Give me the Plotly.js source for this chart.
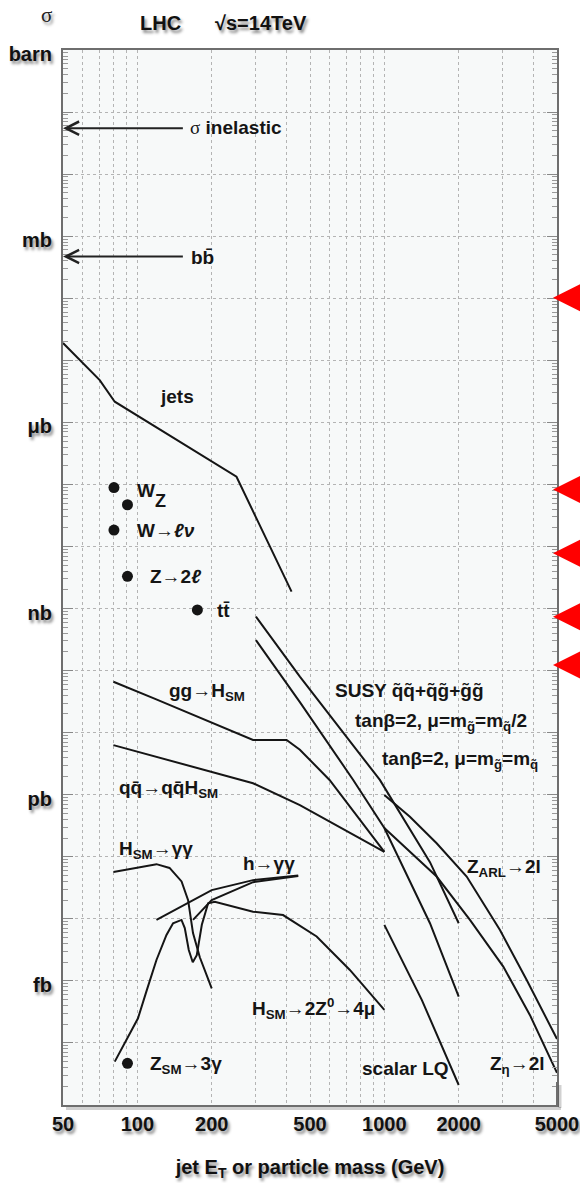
<!DOCTYPE html>
<html>
<head>
<meta charset="utf-8">
<script src="https://cdn.plot.ly/plotly-3.0.1.min.js"></script>
<style>
  html, body { margin: 0; padding: 0; background: #ffffff; }
  #plot { width: 580px; height: 1183px; }
</style>
</head>
<body>
<div id="plot"></div>
<script>
// LHC cross sections (barn) versus jet E_T or particle mass (GeV), sqrt(s) = 14 TeV

// Reference lines drawn as arrows onto the axis
const inelasticXs = 5.5e-2;
const bbbarXs = 4.7e-4;
const arrowTailMass = 155;

// Continuous processes
const jetsMass = [50, 70.4, 81, 252, 421];
const jetsXs   = [1.9e-5, 4.8e-6, 2.15e-6, 1.33e-7, 1.87e-9];

const ggHMass = [80, 118, 294, 402, 455, 600, 1000];
const ggHXs   = [6.6e-11, 3.5e-11, 7.6e-12, 7.6e-12, 5.3e-12, 1.73e-12, 1.2e-13];

const qqHMass = [80, 294, 455, 1000];
const qqHXs   = [6.3e-12, 1.53e-12, 6.8e-13, 1.2e-13];

const hggSMMass = [80, 119.5, 135, 151, 160.5, 168, 179, 200];
const hggSMXs   = [5.7e-14, 7.6e-14, 6.6e-14, 4.0e-14, 2.0e-14, 5.9e-15, 2.4e-15, 7.6e-16];

const hggAMass = [119.5, 200, 294, 448];
const hggAXs   = [9.6e-15, 2.9e-14, 4.2e-14, 5.0e-14];

const hggBMass = [168, 200, 294, 448];
const hggBXs   = [9.6e-15, 2.0e-14, 3.9e-14, 4.9e-14];

const hzzMass = [81, 90.6, 100.6, 109.2, 119.5, 131.2, 139.5, 150.9, 155.6, 161.5,
                 167.6, 174, 182.4, 193.4, 205.8, 294, 389, 532, 725, 1000];
const hzzXs   = [5.0e-17, 1.12e-16, 2.5e-16, 7.1e-16, 2.17e-15, 5.5e-15, 8.5e-15, 9.6e-15, 7.1e-15, 3.15e-15,
                 2.0e-15, 2.6e-15, 8.0e-15, 1.78e-14, 1.89e-14, 1.30e-14, 1.15e-14, 5.2e-15, 1.5e-15, 3.4e-16];

const susyHalfMass = [302, 455, 959, 1530, 2000];
const susyHalfXs   = [7.4e-10, 8.0e-11, 1.73e-12, 8.2e-14, 8.5e-15];

const susyEqMass = [302, 455, 748, 1000, 1530, 2000];
const susyEqXs   = [3.1e-10, 3.1e-11, 1.73e-12, 2.9e-13, 8.5e-15, 5.6e-16];

const zArlMass = [1000, 1269, 1628, 2154, 2938, 3770, 5000];
const zArlXs   = [9.9e-13, 4.4e-13, 1.65e-13, 4.8e-14, 6.6e-15, 1.03e-15, 1.16e-16];

const zEtaMass = [1000, 1628, 2221, 3030, 3887, 5000];
const zEtaXs   = [2.9e-13, 4.8e-14, 9.6e-15, 1.7e-15, 2.8e-16, 3.3e-17];

const lqMass = [1000, 1419, 2000];
const lqXs   = [8.0e-15, 4.9e-16, 2.1e-17];

// Single-mass processes: W, Z, W->lnu, Z->2l, ttbar, Z->3gamma
const pointMass = [80.4, 91.2, 80.4, 91.2, 175, 91.2];
const pointXs   = [8.9e-8, 4.7e-8, 1.84e-8, 3.3e-9, 9.5e-10, 4.7e-17];

// Marked levels on the right edge
const flagLevels = [1.02e-4, 8.3e-8, 7.8e-9, 7.4e-10, 1.23e-10];

// Axis ticks
const xTickLabelVals = [50, 100, 200, 500, 1000, 2000, 5000];
const yTickExp    = [0, -3, -6, -9, -12, -15];
const yTickLabels = ['barn', 'mb', 'μb', 'nb', 'pb', 'fb'];

// ---------------------------------------------------------------------
const W = 580, H = 1183;
const M = {l: 63, r: 23, t: 50, b: 78};
const PW = W - M.l - M.r, PH = H - M.t - M.b;
const px = x => (x - M.l) / PW;
const py = y => 1 - (y - M.t) / PH;
const L10 = Math.log10;

const FONT = 'Liberation Sans, Arial, sans-serif';
const SHADOW = '2px 3px 3px rgba(0,0,0,0.45)';
const INK = '#151515';
const labelFont = {family: FONT, size: 19, color: INK, weight: 700};
const outerFont = {family: FONT, size: 20, color: '#111', weight: 700, shadow: SHADOW};
const GRID = {color: '#b4b4b4', width: 1, dash: 'dot'};

function curve(x, y) {
  return {x: x, y: y, type: 'scatter', mode: 'lines',
          line: {color: INK, width: 2}, hoverinfo: 'skip', showlegend: false};
}

const traces = [
  curve(jetsMass, jetsXs),
  curve(ggHMass, ggHXs),
  curve(qqHMass, qqHXs),
  curve(hggSMMass, hggSMXs),
  curve(hggAMass, hggAXs),
  curve(hggBMass, hggBXs),
  curve(hzzMass, hzzXs),
  curve(susyHalfMass, susyHalfXs),
  curve(susyEqMass, susyEqXs),
  curve(zArlMass, zArlXs),
  curve(zEtaMass, zEtaXs),
  curve(lqMass, lqXs),
  {x: pointMass, y: pointXs, type: 'scatter', mode: 'markers',
   marker: {color: INK, size: 11, symbol: 'circle'}, hoverinfo: 'skip', showlegend: false},
  // carrier for the minor tick axis
  {x: [], y: [], type: 'scatter', mode: 'lines', yaxis: 'y2', hoverinfo: 'skip', showlegend: false}
];

// Vertical grid at 1..9 x 10^n that carry no label
const xMinorGrid = [];
for (let d = 1; d <= 3; d++) {
  for (let k = 1; k <= 9; k++) {
    const v = k * Math.pow(10, d);
    if (v > 50 && v < 5000 && !xTickLabelVals.includes(v)) xMinorGrid.push(v);
  }
}

// Decades: labelled ones as major ticks, the rest as grid-only minor ticks
const yMajor = yTickExp.map(e => Math.pow(10, e));
const yOtherDecades = [], ySubTicks = [];
for (let e = 0; e >= -17; e--) {
  if (!yTickExp.includes(e)) yOtherDecades.push(Math.pow(10, e));
  if (e > -17) for (let k = 2; k <= 9; k++) ySubTicks.push(k * Math.pow(10, e - 1));
}

function label(text, x, y, extra) {
  return Object.assign({text: text, xref: 'paper', yref: 'paper', x: px(x), y: py(y),
    xanchor: 'left', yanchor: 'middle', showarrow: false, font: labelFont}, extra || {});
}

function axisArrow(xs) {
  return {xref: 'x', yref: 'y', axref: 'x', ayref: 'y',
          x: L10(50), y: L10(xs), ax: L10(arrowTailMass), ay: L10(xs),
          text: '', showarrow: true, arrowhead: 5, arrowsize: 1.3, arrowwidth: 2,
          arrowcolor: '#222', standoff: 0};
}

// Red left-pointing flags just outside the right edge, at each marked level
function flag(level) {
  return {xref: 'paper', yref: 'y', x: px(553), y: L10(level),
          ax: 50, ay: 0, text: '', showarrow: true, arrowhead: 2,
          arrowsize: 3.9, arrowwidth: 2, arrowcolor: '#ff0000', standoff: 0};
}

const annotations = [
  axisArrow(inelasticXs),
  axisArrow(bbbarXs),
  ...flagLevels.map(flag),
  label('<span style="font-family:Liberation Serif;font-weight:400">σ</span> inelastic', 188, 128),
  label('bb̄', 189, 257),
  label('jets', 158, 397),
  label('W', 135, 490),
  label('Z', 153, 501, {font: Object.assign({}, labelFont, {size: 18})}),
  label('W→<i>ℓν</i>', 135, 530),
  label('Z→2<i>ℓ</i>', 148, 577),
  label('tt̄', 215, 610),
  label('gg→H<sub>SM</sub>', 167, 692),
  label('qq̄→qq̄H<sub>SM</sub>', 117, 789),
  label('H<sub>SM</sub>→γγ', 117, 850),
  label('h→γγ', 241, 863),
  label('SUSY q̃q̃+q̃g̃+g̃g̃', 333, 690),
  label('tanβ=2, μ=m<sub>g̃</sub>=m<sub>q̃</sub>/2', 353, 722),
  label('tanβ=2, μ=m<sub>g̃</sub>=m<sub>q̃</sub>', 380, 760),
  label('Z<sub>ARL</sub>→2l', 465, 868),
  label('H<sub>SM</sub>→2Z<sup>0</sup>→4μ', 250, 1008),
  label('scalar LQ', 360, 1068),
  label('Z<sub>η</sub>→2l', 488, 1065),
  label('Z<sub>SM</sub>→3γ', 148, 1065),
  // header
  label('σ', 46, 15, {xanchor: 'center',
        font: {family: 'Liberation Serif, DejaVu Serif, serif', size: 21, color: '#222', shadow: SHADOW}}),
  label('LHC', 138, 23, {font: outerFont}),
  label('√s=14TeV', 213, 23, {font: outerFont})
];

// frame shadow and the short right frame piece at the bottom corner
const shapes = [
  {type: 'line', xref: 'paper', yref: 'paper', x0: px(66), x1: px(561), y0: py(1108.5), y1: py(1108.5),
   line: {color: 'rgba(0,0,0,0.18)', width: 3}},
  {type: 'line', xref: 'paper', yref: 'paper', x0: 1, x1: 1, y0: 0, y1: py(1082),
   line: {color: '#6e6e6e', width: 2}},
  {type: 'line', xref: 'paper', yref: 'paper', x0: px(560), x1: px(560), y0: py(1108), y1: py(1085),
   line: {color: 'rgba(0,0,0,0.18)', width: 3}}
];

const layout = {
  width: W, height: H,
  margin: M,
  paper_bgcolor: '#ffffff',
  plot_bgcolor: '#f7f9f9',
  showlegend: false,
  xaxis: {
    type: 'log', range: [L10(50) - 1e-6, L10(5000) + 1e-6],
    tickmode: 'array', tickvals: xTickLabelVals, ticktext: xTickLabelVals.map(String),
    ticks: '', tickfont: outerFont, ticklabelstandoff: 0,
    showgrid: true, gridcolor: GRID.color, gridwidth: GRID.width, griddash: GRID.dash,
    minor: {tickmode: 'array', tickvals: xMinorGrid, ticks: '', showgrid: true,
            gridcolor: GRID.color, gridwidth: GRID.width, griddash: GRID.dash},
    showline: true, linecolor: '#6e6e6e', linewidth: 2, mirror: true,
    zeroline: false,
    title: {text: 'jet E<sub>T</sub> or particle mass (GeV)', font: outerFont, standoff: 26}
  },
  yaxis: {
    type: 'log', range: [-17, 0],
    tickmode: 'array', tickvals: yMajor, ticktext: yTickLabels,
    ticks: 'inside', ticklen: 10, tickwidth: 1, tickcolor: '#888',
    tickfont: outerFont, ticklabelstandoff: 5, ticklabelshift: 4,
    minor: {tickmode: 'array', tickvals: yOtherDecades, ticks: 'inside', ticklen: 10,
            tickwidth: 1, tickcolor: '#888', showgrid: true,
            gridcolor: GRID.color, gridwidth: GRID.width, griddash: GRID.dash},
    showgrid: true, gridcolor: GRID.color, gridwidth: GRID.width, griddash: GRID.dash,
    showline: true, linecolor: '#6e6e6e', linewidth: 2, mirror: 'ticks',
    zeroline: false
  },
  yaxis2: {
    type: 'log', range: [-17, 0], overlaying: 'y', side: 'left',
    tickmode: 'array', tickvals: ySubTicks, showticklabels: false,
    ticks: 'inside', ticklen: 5, tickwidth: 1, tickcolor: '#999', mirror: 'ticks',
    showgrid: false, showline: false, zeroline: false
  },
  annotations: annotations,
  shapes: shapes
};

Plotly.newPlot('plot', traces, layout, {staticPlot: true, displayModeBar: false});
</script>
</body>
</html>
